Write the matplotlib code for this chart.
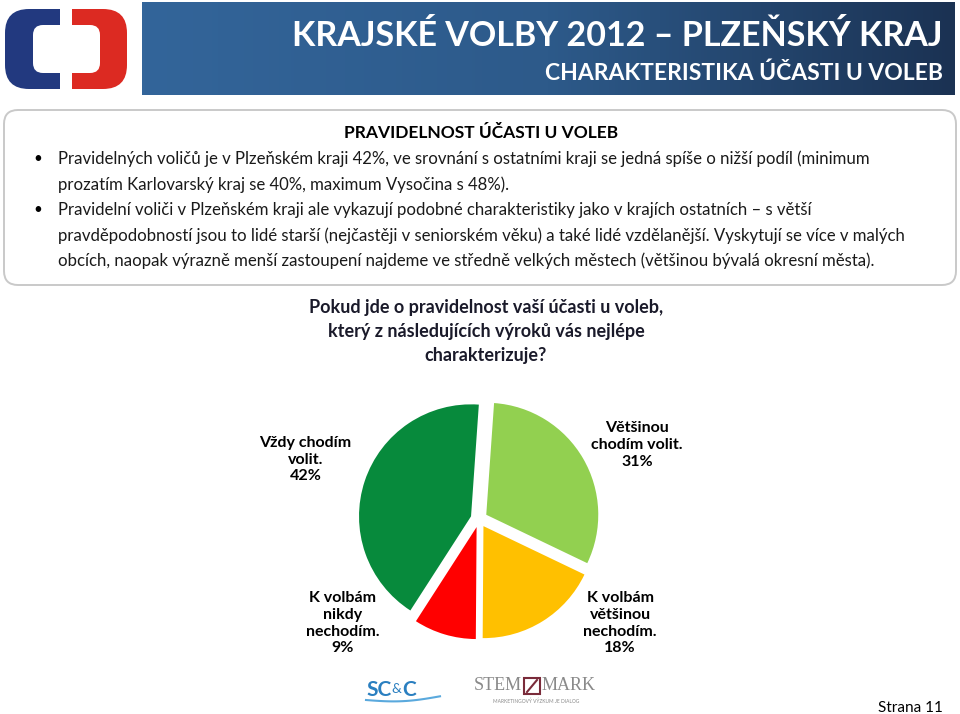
import numpy as np
import matplotlib
matplotlib.use('Agg')
import matplotlib.pyplot as plt
from matplotlib.patches import FancyBboxPatch, Rectangle

# --- data ---
categories = ['Většinou\nchodím volit.', 'K volbám\nvětšinou\nnechodím.',
              'K volbám\nnikdy\nnechodím.', 'Vždy chodím\nvolit.']
values = [31, 18, 9, 42]
colors = ['#92d050', '#ffc000', '#ff0000', '#078a3c']
# label anchor points in pie units (x, y)
label_pos = [(1.41, 0.66), (1.26, -0.93), (-1.22, -0.93), (-1.55, 0.53)]

title = 'KRAJSKÉ VOLBY 2012 – PLZEŇSKÝ KRAJ'
subtitle = 'CHARAKTERISTIKA ÚČASTI U VOLEB'
box_heading = 'PRAVIDELNOST ÚČASTI U VOLEB'
bullets = [
    ['Pravidelných voličů je v Plzeňském kraji 42%, ve srovnání s ostatními kraji se jedná spíše o nižší podíl (minimum',
     'prozatím Karlovarský kraj se 40%, maximum Vysočina s 48%).'],
    ['Pravidelní voliči v Plzeňském kraji ale vykazují podobné charakteristiky jako v krajích ostatních – s větší',
     'pravděpodobností jsou to lidé starší (nejčastěji v seniorském věku) a také lidé vzdělanější. Vyskytují se více v malých',
     'obcích, naopak výrazně menší zastoupení najdeme ve středně velkých městech (většinou bývalá okresní města).'],
]
question = ['Pokud jde o pravidelnost vaší účasti u voleb,',
            'který z následujících výroků vás nejlépe',
            'charakterizuje?']

body_font = ['Lato', 'DejaVu Sans']

fig = plt.figure(figsize=(9.6, 7.14), dpi=100)
ax = fig.add_axes([0, 0, 1, 1])
ax.set_xlim(0, 960)
ax.set_ylim(714, 0)
ax.axis('off')

# logo
outer_b = FancyBboxPatch((5, 9), 122, 80, boxstyle='round,pad=0,rounding_size=24',
                         fc='#22397f', ec='none')
ax.add_patch(outer_b)
outer_b.set_clip_path(Rectangle((0, 0), 60, 100, transform=ax.transData))
outer_r = FancyBboxPatch((5, 9), 122, 80, boxstyle='round,pad=0,rounding_size=24',
                         fc='#dc2a22', ec='none')
ax.add_patch(outer_r)
outer_r.set_clip_path(Rectangle((72, 0), 70, 100, transform=ax.transData))
ax.add_patch(FancyBboxPatch((33, 25), 67, 48, boxstyle='round,pad=0,rounding_size=10',
                            fc='white', ec='none'))

# title bar with gradient
grad = np.linspace(0, 1, 256).reshape(1, -1)
cmap = matplotlib.colors.LinearSegmentedColormap.from_list('bar', ['#33659a', '#2d5a8a', '#1b3253'])
ax.imshow(grad, extent=(142, 955, 95, 2), cmap=cmap, aspect='auto', zorder=1)
ax.set_xlim(0, 960)
ax.set_ylim(714, 0)
ax.text(943, 36, title, color='white', fontsize=24.5, fontweight='bold',
        family=body_font, ha='right', va='center', zorder=2)
ax.text(943, 73, subtitle, color='white', fontsize=16.5, fontweight='bold',
        family=body_font, ha='right', va='center', zorder=2)

# text box
ax.add_patch(FancyBboxPatch((4, 110), 952, 175, boxstyle='round,pad=0,rounding_size=14',
                            fc='white', ec='#c9c9c9', lw=1.4))
ax.text(481, 133, box_heading, fontsize=12.5, fontweight='bold', family=body_font,
        ha='center', va='center')
y = 159
for b in bullets:
    ax.text(38, y, '•', fontsize=11, family=body_font, ha='center', va='center')
    for line in b:
        ax.text(58, y, line, fontsize=12.1, family=body_font, ha='left', va='center',
                color='#1a1a1a')
        y += 25.5

# question
for i, line in enumerate(question):
    ax.text(486, 307 + i * 24, line, fontsize=13, fontweight='bold', family=body_font,
            ha='center', va='center', color='#1a1a2a')

# pie chart
r_px = 112
cx, cy = 479, 519
pax = fig.add_axes([(cx - 2 * r_px) / 960, (714 - cy - 2 * r_px) / 714,
                    4 * r_px / 960, 4 * r_px / 714])
pax.pie(values, colors=colors, startangle=86, counterclock=False,
        explode=[0.075] * 4, wedgeprops=dict(linewidth=0))
pax.set_xlim(-2, 2)
pax.set_ylim(-2, 2)
pax.set_aspect('auto')
pax.axis('off')
for cat, v, (lx, ly) in zip(categories, values, label_pos):
    pax.text(lx, ly, f'{cat}\n{v}%', fontsize=11.5, fontweight='bold', family=body_font,
             ha='center', va='center', linespacing=1.25)

# footer logos
ax.text(366, 690, 'SC', color='#2a7fc0', fontsize=15, fontweight='bold', family=body_font,
        ha='left', va='center')
ax.text(391, 689, '&', color='#2a7fc0', fontsize=10, family=body_font, ha='left', va='center')
ax.text(402, 690, 'C', color='#2a7fc0', fontsize=15, fontweight='bold', family=body_font,
        ha='left', va='center')
sw = np.linspace(366, 440, 50)
ax.plot(sw, 700 + 3 * np.sin((sw - 366) / 74 * np.pi) - (sw - 366) * 0.05, color='#5aa9dd', lw=1.5)
ax.text(474, 686, 'STEM', color='#8a8a8a', fontsize=13, family=['Liberation Serif', 'DejaVu Serif'],
        ha='left', va='center')
ax.add_patch(Rectangle((524, 678), 16, 16, fc='none', ec='#7a2b3a', lw=1.5))
ax.plot([527, 537], [692, 680], color='#7a2b3a', lw=1.5)
ax.text(542, 686, 'MARK', color='#8a8a8a', fontsize=13, family=['Liberation Serif', 'DejaVu Serif'],
        ha='left', va='center')
ax.text(536, 701, 'MARKETINGOVÝ VÝZKUM JE DIALOG', color='#8a8a8a', fontsize=3.5,
        family=body_font, ha='center', va='center')

ax.text(943, 708, 'Strana 11', fontsize=11, family=body_font, ha='right', va='center')

fig.savefig('out.png', dpi=100)
